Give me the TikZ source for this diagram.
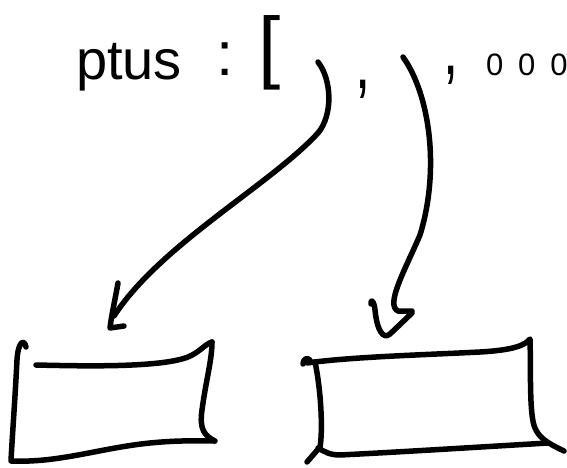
\documentclass[tikz,border=0pt]{standalone}
\usepackage{fontspec}
\usepackage{graphicx}
\setmainfont{Liberation Sans}
\tikzset{
  pen/.style={line width=5.5pt, line cap=round, line join=round, black},
  hand/.style={inner sep=0pt, outer sep=0pt, text=black}
}
\begin{document}
\begin{tikzpicture}[x=1pt,y=-1pt]
\useasboundingbox[fill=white] (0,0) rectangle (567,468);
% texts
\node[hand, anchor=base west, font=\fontsize{56}{56}\selectfont] (word) at (76,80) {ptus};
\node[hand, anchor=base, font=\fontsize{62}{62}\selectfont] (colon) at (225,76) {:};
\node[hand, anchor=base west, font=\fontsize{80}{80}\selectfont] (brk) at (258,74) {[};
\node[hand, anchor=base, font=\fontsize{78}{78}\selectfont] (comA) at (363,89) {\scalebox{0.7}[1]{,}};
\node[hand, anchor=base, font=\fontsize{78}{78}\selectfont] (comB) at (451,75) {\scalebox{0.7}[1]{,}};
\node[hand, anchor=base west, font=\fontsize{31}{31}\selectfont] (num) at (486,76) {0\hspace{15pt}0\hspace{15pt}0};
% arrow 1
\coordinate (s1) at (318,62);
\coordinate (t1) at (114,316);
\draw[pen] (s1) .. controls (332,80) and (333,115) .. (318,133)
  .. controls (270,185) and (160,245) .. (t1);
\draw[pen] (118,283) .. controls (115,300) and (111,318) .. (110,328) -- (124,326);
% arrow 2
\coordinate (s2) at (403,57);
\coordinate (t2) at (398,311);
\draw[pen] (s2) .. controls (430,95) and (440,170) .. (420,235)
  .. controls (405,270) and (385,305) .. (t2) -- (412,311);
\draw[pen] (371,304) .. controls (371,298) and (374,301) .. (375,310)
  .. controls (377,330) and (383,340) .. (390,334) -- (412,313);
% left box
\draw[pen] (26,347) .. controls (24,338) and (18,342) .. (17,360)
  .. controls (15,400) and (12,440) .. (11,461)
  .. controls (60,463) and (100,448) .. (150,443)
  .. controls (180,440) and (200,441) .. (215,441)
  .. controls (205,436) and (199,430) .. (202,410)
  .. controls (206,380) and (212,360) .. (212,342);
\draw[pen] (36,365) .. controls (80,366) and (160,368) .. (188,357)
  .. controls (200,352) and (205,344) .. (212,342);
% right box
\draw[pen] (303,364) .. controls (303,359) and (307,357) .. (310,360);
\draw[pen] (307,363) .. controls (350,357) and (420,355) .. (480,352)
  .. controls (515,350) and (525,345) .. (530,339)
  .. controls (531,370) and (529,415) .. (535,428)
  .. controls (539,437) and (545,442) .. (564,451);
\draw[pen] (315,362) .. controls (321,390) and (323,430) .. (320,447) -- (307,462);
\draw[pen] (318,448) .. controls (325,452) and (330,455) .. (340,455)
  .. controls (400,452) and (480,447) .. (548,443);
\end{tikzpicture}
\end{document}
